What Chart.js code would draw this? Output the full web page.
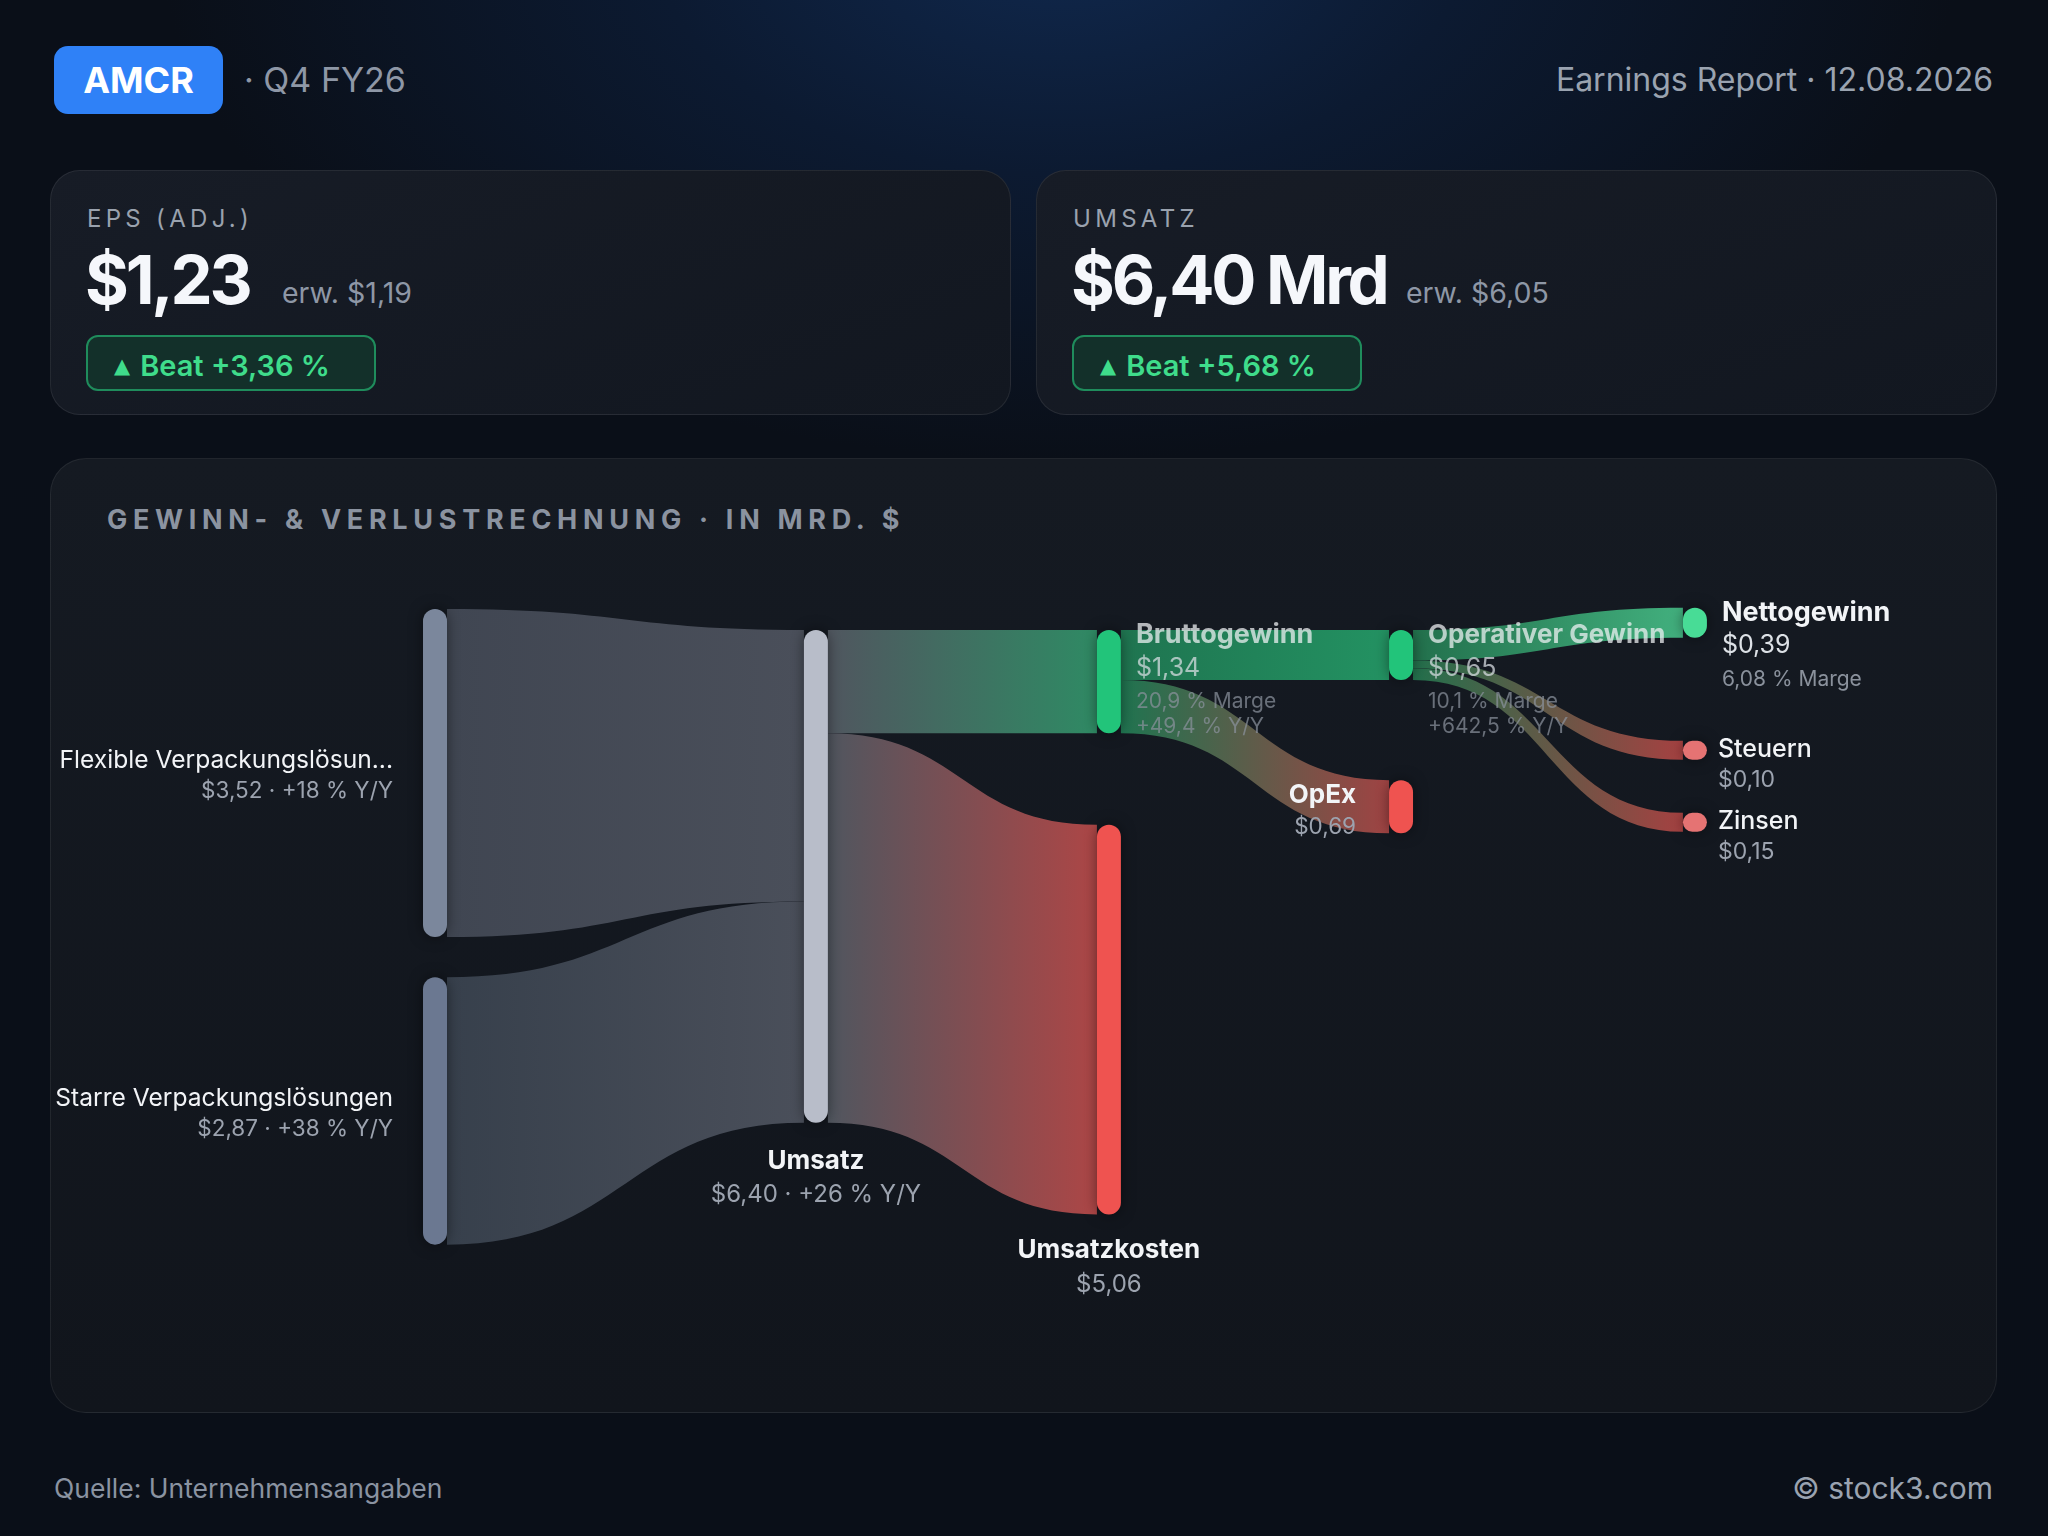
<!DOCTYPE html>
<html>
<head>
<meta charset="utf-8">
<script src="https://cdn.jsdelivr.net/npm/chart.js@4.4.1/dist/chart.umd.min.js"></script>
<style>
  html, body { margin: 0; padding: 0; }
  body {
    width: 2048px; height: 1536px; position: relative; overflow: hidden;
    font-family: Inter, "Noto Sans", sans-serif;
    background: radial-gradient(ellipse 900px 520px at 1060px -60px, #10284d 0%, #0c1a31 45%, #0a0f18 100%), #0a0f18;
    background-color: #0a0f18;
  }
  .abs { position: absolute; }
  .badge { left: 54px; top: 46px; width: 169px; height: 68px; border-radius: 14px; background: #2f81f7;
    color: #fff; font-weight: 700; font-size: 36px; line-height: 68px; text-align: center; }
  .sub { left: 244px; top: 46px; line-height: 68px; font-size: 34px; color: #8e97a6; }
  .date { right: 55px; top: 46px; line-height: 68px; font-size: 32px; color: #9aa3b0; }
  .card { top: 170px; width: 961px; height: 245px; box-sizing: border-box; border-radius: 30px;
    background: linear-gradient(160deg, #171c26 0%, #121720 100%); border: 1px solid rgba(255,255,255,0.08); }
  .card .lab { position: absolute; left: 36px; top: 34px; line-height: 28px; font-size: 24px; letter-spacing: 4.3px; color: #9aa2ae; }
  .card .big { position: absolute; left: 34px; top: 75px; line-height: 68px; font-size: 67px; font-weight: 700; color: #f5f7fb; letter-spacing: -3.2px; }
  .card .exp { position: absolute; top: 107px; line-height: 29px; font-size: 28.5px; color: #8e97a6; }
  .card .beat { position: absolute; left: 35px; top: 164px; width: 290px; height: 56px; box-sizing: border-box;
    border: 2px solid #1f8c5c; border-radius: 12px; background: #13302a; color: #3fdc8b;
    font-size: 29px; font-weight: 600; line-height: 57px; padding-left: 26px; }
  .beat .tri { font-size: 21px; position: relative; top: -3px; margin-right: 10px; font-family: "DejaVu Sans", sans-serif; }
  .panel { left: 50px; top: 458px; width: 1947px; height: 955px; box-sizing: border-box; border-radius: 36px;
    background: linear-gradient(180deg, #151a22 0%, #11151c 100%); border: 1px solid rgba(255,255,255,0.07); }
  .ptitle { left: 107px; top: 503px; line-height: 34px; font-size: 27px; font-weight: 700; letter-spacing: 5.7px; color: #8b93a0; }
  #sankey { left: 50px; top: 560px; }
  .foot { top: 1470px; line-height: 36px; font-size: 26.5px; color: #8a93a1; }
</style>
</head>
<body>
<div class="abs badge">AMCR</div>
<div class="abs sub">· Q4 FY26</div>
<div class="abs date">Earnings Report · 12.08.2026</div>

<div class="abs card" style="left:50px">
  <div class="lab">EPS (ADJ.)</div>
  <div class="big">$1,23</div>
  <div class="exp" style="left:231px">erw. $1,19</div>
  <div class="beat"><span class="tri">▲</span>Beat +3,36 %</div>
</div>
<div class="abs card" style="left:1036px">
  <div class="lab">UMSATZ</div>
  <div class="big">$6,40 Mrd</div>
  <div class="exp" style="left:369px">erw. $6,05</div>
  <div class="beat"><span class="tri">▲</span>Beat +5,68 %</div>
</div>

<div class="abs panel"></div>
<div class="abs ptitle">GEWINN- &amp; VERLUSTRECHNUNG · IN MRD. $</div>
<canvas id="sankey" class="abs" width="1947" height="840"></canvas>

<div class="abs foot" style="left:54px">Quelle: Unternehmensangaben</div>
<div class="abs foot" style="right:55px;font-size:30px;color:#9aa3b0">© stock3.com</div>

<script>
// nodes
var nodeNames = ['Flexible Verpackungslösungen', 'Starre Verpackungslösungen', 'Umsatz', 'Bruttogewinn', 'Umsatzkosten',
                 'Operativer Gewinn', 'OpEx', 'Nettogewinn', 'Steuern', 'Zinsen']
var nodeValues = [3.52, 2.87, 6.40, 1.34, 5.06, 0.65, 0.69, 0.39, 0.10, 0.15]
var nodeColumns = [0, 0, 1, 2, 2, 3, 3, 4, 4, 4]
var valueLabels = ['$3,52 · +18 % Y/Y', '$2,87 · +38 % Y/Y', '$6,40 · +26 % Y/Y', '$1,34', '$5,06',
                   '$0,65', '$0,69', '$0,39', '$0,10', '$0,15']
var marginLabels = ['', '', '', '20,9 % Marge', '', '10,1 % Marge', '', '6,08 % Marge', '', '']
var yoyLabels = ['', '', '', '+49,4 % Y/Y', '', '+642,5 % Y/Y', '', '', '', '']

// links
var linkFrom = [0, 1, 2, 2, 3, 3, 5, 5, 5]
var linkTo = [2, 2, 3, 4, 5, 6, 7, 8, 9]
var linkValues = [3.52, 2.87, 1.34, 5.06, 0.65, 0.69, 0.39, 0.10, 0.15]

// layout (axis units)
var colX = [0, 1.3, 2.3, 3.297, 4.3]
var nodeGap = [0, 0.43, 0, 0, 1.19, 0, 1.30, -0.29, 1.34, 0.835]
var labelPos = ['left', 'left', 'below', 'rightTop', 'below', 'rightTop', 'left', 'rightTop', 'right', 'right']

// styles
var nodeFill = ['#7b879c', '#6b7891', '#b8bdc9', '#22c47a', '#ef5350', '#22c47a', '#ef5350', '#48dc96', '#e57373', '#e57373']
var flowOut = ['#404652', '#37404c', '#50565f', '#1f7450', '', '#22704c', '', '', '', '']
var flowIn = ['', '', '#4a4f5a', '#2f8a64', '#ad4646', '#239262', '#a04343', '#42b07e', '#a54141', '#a54141']
var NODE_W = 24, MIN_H = 19

function shortName(s) {
    return s.length > 26 ? s.slice(0, 25) + '...' : s
}

function computeLayout(chart) {
    var xs = chart.scales.x
    var nodes = []
    var cursor = {}
    for (var i = 0; i < nodeNames.length; i++) {
        var c = nodeColumns[i]
        var ys = c == 0 ? chart.scales.y0 : chart.scales.y
        var start = (cursor[c] || 0) + nodeGap[i]
        cursor[c] = start + nodeValues[i]
        var top = ys.getPixelForValue(start)
        var bot = ys.getPixelForValue(start + nodeValues[i])
        if (bot - top < MIN_H) bot = top + MIN_H
        var cx = xs.getPixelForValue(colX[c])
        nodes.push({x0: cx - NODE_W / 2, x1: cx + NODE_W / 2, cx: cx, top: top, bot: bot, outTot: 0, inTot: 0, outUsed: 0, inUsed: 0})
    }
    for (var k = 0; k < linkValues.length; k++) {
        nodes[linkFrom[k]].outTot += linkValues[k]
        nodes[linkTo[k]].inTot += linkValues[k]
    }
    var links = []
    for (var k = 0; k < linkValues.length; k++) {
        var s = nodes[linkFrom[k]], t = nodes[linkTo[k]]
        var sh = linkValues[k] / s.outTot * (s.bot - s.top)
        var th = linkValues[k] / t.inTot * (t.bot - t.top)
        var l = {x0: s.x1, x1: t.x0, s0: s.top + s.outUsed, t0: t.top + t.inUsed, sh: sh, th: th, k: k}
        s.outUsed += sh
        t.inUsed += th
        links.push(l)
    }
    return {nodes: nodes, links: links}
}

function roundRect(ctx, x, y, w, h, r) {
    r = Math.min(r, w / 2, h / 2)
    ctx.beginPath()
    ctx.moveTo(x + r, y)
    ctx.arcTo(x + w, y, x + w, y + h, r)
    ctx.arcTo(x + w, y + h, x, y + h, r)
    ctx.arcTo(x, y + h, x, y, r)
    ctx.arcTo(x, y, x + w, y, r)
    ctx.closePath()
}

function text(ctx, s, x, y, font, color, align) {
    if (!s) return
    ctx.font = font
    ctx.fillStyle = color
    ctx.textAlign = align
    ctx.textBaseline = 'middle'
    ctx.fillText(s, x, y)
}

var sankeyPlugin = {
    id: 'sankey',
    afterDatasetsDraw: function (chart) {
        var ctx = chart.ctx
        var lay = computeLayout(chart)
        ctx.save()
        // links
        lay.links.forEach(function (l) {
            var mx = (l.x0 + l.x1) / 2
            var g = ctx.createLinearGradient(l.x0, 0, l.x1, 0)
            g.addColorStop(0, flowOut[linkFrom[l.k]])
            g.addColorStop(1, flowIn[linkTo[l.k]])
            ctx.fillStyle = g
            ctx.beginPath()
            ctx.moveTo(l.x0, l.s0)
            ctx.bezierCurveTo(mx, l.s0, mx, l.t0, l.x1, l.t0)
            ctx.lineTo(l.x1, l.t0 + l.th)
            ctx.bezierCurveTo(mx, l.t0 + l.th, mx, l.s0 + l.sh, l.x0, l.s0 + l.sh)
            ctx.closePath()
            ctx.fill()
        })
        // nodes
        lay.nodes.forEach(function (n, i) {
            ctx.save()
            ctx.shadowColor = 'rgba(0,0,0,0.45)'
            ctx.shadowBlur = 14
            ctx.fillStyle = nodeFill[i]
            roundRect(ctx, n.x0, n.top, NODE_W, n.bot - n.top, NODE_W / 2)
            ctx.fill()
            ctx.restore()
        })
        // labels
        var white = '#f2f4f7', grey = '#9ca3af', small = '#8a919c'
        lay.nodes.forEach(function (n, i) {
            var p = labelPos[i], mid = (n.top + n.bot) / 2
            var name = shortName(nodeNames[i])
            if (p == 'left') {
                var first = nodeColumns[i] == 0
                var x = n.x0 - (first ? 30 : 33)
                text(ctx, name, x, mid - 12, (first ? '400 24.6px' : '700 26px') + ' Inter', white, 'right')
                text(ctx, valueLabels[i], x, mid + (first ? 18 : 21), '400 22.5px Inter', grey, 'right')
            } else if (p == 'below') {
                var d = nodeColumns[i] == 1 ? 3 : 1
                text(ctx, name, n.cx, n.bot + 35 + d, '700 26px Inter', white, 'center')
                text(ctx, valueLabels[i], n.cx, n.bot + 69 + d, '400 24px Inter', grey, 'center')
            } else if (p == 'right') {
                var x = n.x1 + 11
                text(ctx, name, x, mid - 1, '500 25px Inter', white, 'left')
                text(ctx, valueLabels[i], x, mid + 30, '400 23px Inter', grey, 'left')
            } else {
                var x = n.x1 + 15
                var fs = nodeColumns[i] == 3 ? '26px' : '27px'
                ctx.globalAlpha = nodeColumns[i] == 4 ? 1 : 0.72
                text(ctx, name, x, n.top + 5, '700 ' + fs + ' Inter', white, 'left')
                text(ctx, valueLabels[i], x, n.top + 38, '400 25px Inter', '#dde1e6', 'left')
                text(ctx, marginLabels[i], x, n.top + 72, '400 21px Inter', small, 'left')
                text(ctx, yoyLabels[i], x, n.top + 97, '400 21px Inter', small, 'left')
                ctx.globalAlpha = 1
            }
        })
        ctx.restore()
    }
}

Chart.defaults.font.family = 'Inter'
var ctx = document.getElementById('sankey').getContext('2d')
var sankeyChart = new Chart(ctx, {
    type: 'scatter',
    data: {
        datasets: [{
            data: nodeValues.map(function (v, i) { return {x: colX[nodeColumns[i]], y: v / 2} }),
            pointRadius: 0
        }]
    },
    options: {
        responsive: false,
        animation: false,
        events: [],
        layout: {padding: 0},
        plugins: {legend: {display: false}, tooltip: {enabled: false}},
        scales: {
            x: {type: 'linear', display: false, min: -1.314, max: 5.331},
            y: {type: 'linear', display: false, reverse: true, min: -0.909, max: 10.0},
            y0: {type: 'linear', display: false, reverse: true, min: -0.5258, max: 8.487}
        }
    },
    plugins: [sankeyPlugin]
})
</script>
</body>
</html>
